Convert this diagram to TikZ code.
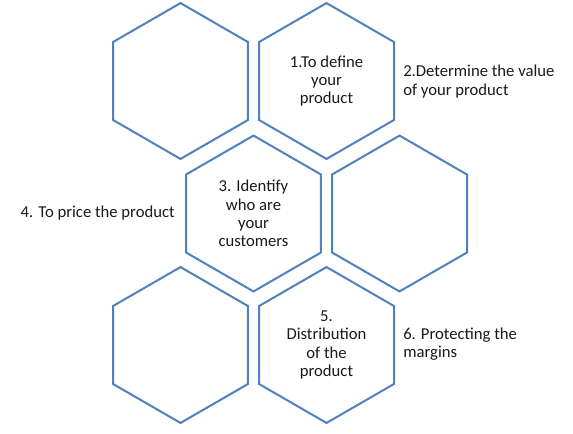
\documentclass[tikz,border=0pt]{standalone}
\usepackage{fontspec}
\setmainfont{Carlito}
\usetikzlibrary{shapes.geometric}
\definecolor{hexblue}{HTML}{4F81BD}
\begin{document}
\begin{tikzpicture}[x=0.75pt,y=-0.75pt,
  txt/.style={font=\fontsize{12.5}{13.7}\selectfont, text=black!90},
  hexa/.style={txt, draw=hexblue, line width=1.5pt, regular polygon, regular polygon sides=6,
    shape border rotate=30, minimum size=116.9pt, inner sep=0pt, align=center},
  lab/.style={txt, inner sep=0pt, align=left}]
\useasboundingbox (0,0) rectangle (573,433);
\node[hexa] (h1) at (180.5,81) {};
\node[hexa] (h2) at (326.5,81) {1.To define\\your\\product};
\node[hexa] (h3) at (253.5,213.5) {3. Identify\\who are\\your\\customers};
\node[hexa] (h4) at (399.5,213.5) {};
\node[hexa] (h5) at (180.5,345) {};
\node[hexa] (h6) at (326.5,345) {5.\\Distribution\\of the\\product};
\node[lab, anchor=west] (t2) at (403,81.5) {2.Determine the value\\of your product};
\node[lab, anchor=east] (t4) at (175,213) {4. To price the product};
\node[lab, anchor=west] (t6) at (403,344) {6. Protecting the\\margins};
\end{tikzpicture}
\end{document}
